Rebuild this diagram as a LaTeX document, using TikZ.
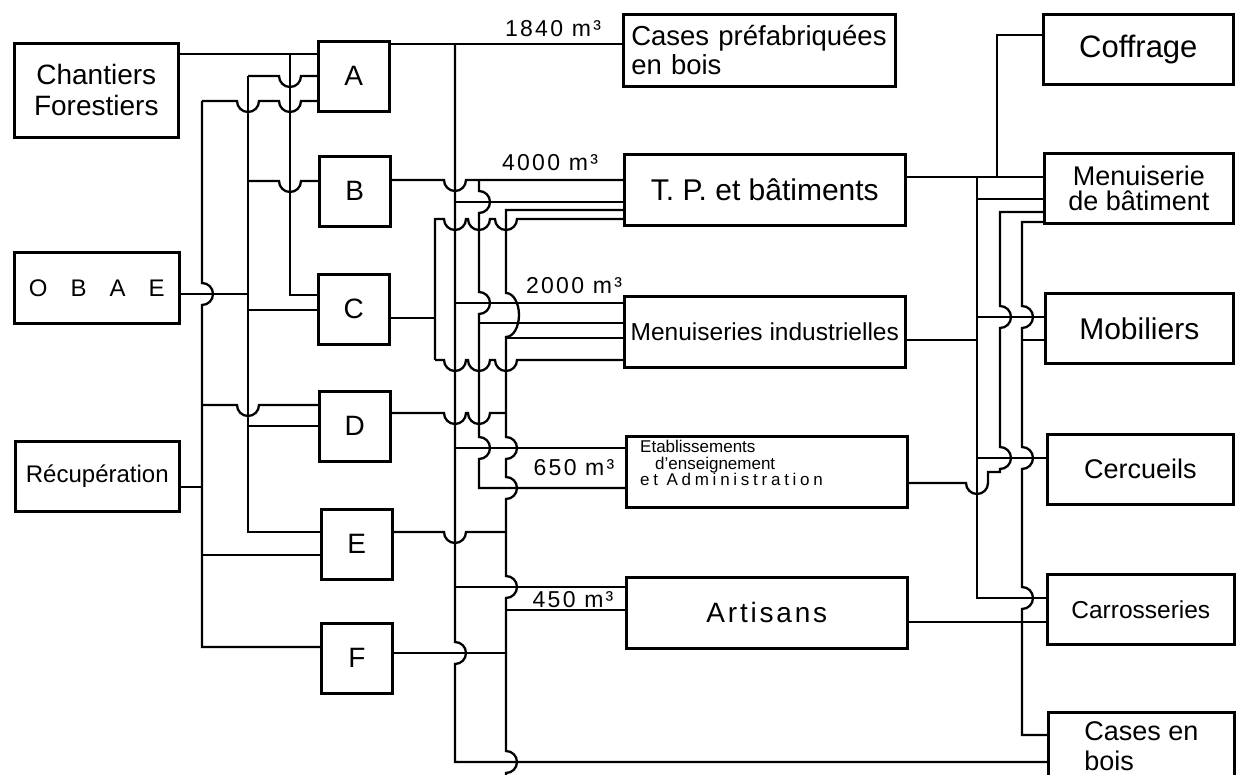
\documentclass[tikz,border=0pt]{standalone}
\usepackage{fontspec}
\setmainfont{Liberation Sans}
\newfontfamily\spacedfont[LetterSpace=10]{Liberation Sans}
\newfontfamily\widefont[LetterSpace=22]{Liberation Sans}
\tikzset{
  bloc/.style={draw,line width=2.6pt,inner sep=0pt,anchor=north west},
  letter/.style={bloc,minimum width=71pt,minimum height=70pt,font=\fontsize{28}{32}\selectfont},
  dest/.style={bloc,minimum width=281pt,minimum height=71pt},
  goal/.style={bloc,minimum width=188pt,minimum height=70pt},
  link/.style={draw,line width=2.3pt},
  qty/.style={font=\spacedfont\fontsize{23}{26}\selectfont},
}
% bridges where two lines cross without joining
\newcommand{\hopu}[2]{-- ({#1-11},#2) arc[start angle=180,end angle=0,radius=11]}
\newcommand{\hopd}[2]{-- (#1,{#2-11}) arc[start angle=-90,end angle=90,radius=11]}
\newcommand{\hopup}[2]{-- (#1,{#2+11}) arc[start angle=90,end angle=-90,radius=11]}

\begin{document}
\begin{tikzpicture}[x=1pt,y=-1pt]
\fill[white,use as bounding box] (0,0) rectangle (1237,775);

% sources
\node[bloc,minimum width=164pt,minimum height=94pt,align=center,font=\fontsize{28}{31}\selectfont] (chantiers) at (13,42) {Chantiers\\Forestiers};
\node[bloc,minimum width=165pt,minimum height=71pt,font=\fontsize{24}{28}\selectfont] (obae) at (13,251) {O\hspace{23pt}B\hspace{23pt}A\hspace{23pt}E};
\node[bloc,minimum width=164pt,minimum height=70pt,font=\fontsize{24}{28}\selectfont] (recup) at (14,440) {Récupération};

% intermediate boxes
\node[letter] (A) at (317,40) {A};
\node[letter] (B) at (318,155) {B};
\node[letter] (C) at (317,273) {C};
\node[letter] (D) at (318,390) {D};
\node[letter] (E) at (320,508) {E};
\node[letter] (F) at (320,622) {F};

% uses
\node[bloc,minimum width=272pt,minimum height=72pt,text width=256pt,align=left,font=\fontsize{27.5}{29}\selectfont] (cpb) at (622,13) {Cases préfabriquées\\en bois};
\node[dest,font=\fontsize{30}{32}\selectfont] (tp) at (623,153) {T. P. et bâtiments};
\node[dest,font=\fontsize{24.5}{28}\selectfont] (mi) at (623,295) {Menuiseries industrielles};
\node[dest] (etab) at (625,435) {};
\node[anchor=north west,inner sep=0pt,align=left,font=\fontsize{17}{16.5}\selectfont] (etabtxt) at (640,440) {Etablissements\\\hspace*{15pt}d'enseignement\\{\widefont et Administration}};
\node[dest,font=\spacedfont\fontsize{28}{32}\selectfont] (art) at (625,576) {Artisans};

\node[goal,minimum width=190pt,font=\fontsize{31}{32}\selectfont] (coff) at (1042,13) {Coffrage};
\node[goal,minimum width=189pt,align=center,font=\fontsize{27}{25}\selectfont] (mb) at (1043,152) {Menuiserie\\de bâtiment};
\node[goal,font=\fontsize{30}{32}\selectfont] (mob) at (1044,292) {Mobiliers};
\node[goal,minimum width=186pt,font=\fontsize{27}{30}\selectfont] (cerc) at (1046,433) {Cercueils};
\node[goal,minimum width=187pt,font=\fontsize{24.5}{28}\selectfont] (carr) at (1046,573) {Carrosseries};
\node[goal,minimum width=186pt,minimum height=68pt,align=left,font=\fontsize{27}{30}\selectfont] (ceb) at (1047,711) {Cases en\\bois};

% volumes
\node[qty] (q1840) at (553,29) {1840 m³};
\node[qty] (q4000) at (550,163) {4000 m³};
\node[qty] (q2000) at (574,286) {2000 m³};
\node[qty] (q650) at (574,468) {650 m³};
\node[qty] (q450) at (573,600) {450 m³};

% sources -> A..F
\draw[link] (chantiers.east |- 0,54) -- (A.west |- 0,54);
\draw[link] (290,54) -- (290,295) -- (C.west |- 0,295);
\draw[link] (248,76) \hopu{290}{76} -- (A.west |- 0,76);
\draw[link] (248,76) -- (248,532) -- (E.west |- 0,532);
\draw[link] (248,181) \hopu{290}{181} -- (B.west |- 0,181);
\draw[link] (obae.east |- 0,294) -- (248,294);
\draw[link] (248,310) -- (C.west |- 0,310);
\draw[link] (248,426) -- (D.west |- 0,426);
\draw[link] (202,101) \hopu{248}{101} \hopu{290}{101} -- (A.west |- 0,101);
\draw[link] (202,101) \hopd{202}{294} -- (202,647) -- (F.west |- 0,647);
\draw[link] (202,405) \hopu{248}{405} -- (D.west |- 0,405);
\draw[link] (recup.east |- 0,487) -- (202,487);
\draw[link] (202,555) -- (E.west |- 0,555);

% A..F -> uses
\draw[link] (A.east |- 0,44) -- (cpb.west |- 0,44);
\draw[link] (455,44) \hopd{455}{653} -- (455,762) -- (ceb.west |- 0,762);
\draw[link] (455,202) -- (tp.west |- 0,202);
\draw[link] (455,303) -- (mi.west |- 0,303);
\draw[link] (455,448) -- (etab.west |- 0,448);
\draw[link] (455,587) -- (art.west |- 0,587);
\draw[link] (B.east |- 0,180) \hopu{455}{180} -- (tp.west |- 0,180);
\draw[link] (479,180) \hopd{479}{202} \hopd{479}{303} \hopd{479}{448} -- (479,488) -- (etab.west |- 0,488);
\draw[link] (479,323) -- (mi.west |- 0,323);
\draw[link] (tp.west |- 0,210) -- (506,210) -- (506,293) arc[start angle=-90,end angle=90,x radius=13,y radius=22]
  \hopd{506}{448} \hopd{506}{488} \hopd{506}{587} \hopd{506}{762} -- (506,776);
\draw[link] (506,338) -- (mi.west |- 0,338);
\draw[link] (D.east |- 0,413) \hopu{455}{413} \hopu{479}{413} -- (506,413);
\draw[link] (E.east |- 0,532) \hopu{455}{532} -- (506,532);
\draw[link] (506,610) -- (art.west |- 0,610);
\draw[link] (F.east |- 0,653) -- (506,653);
\draw[link] (C.east |- 0,318) -- (435,318);
\draw[link] (435,360) -- (435,219) \hopu{455}{219} \hopu{479}{219} \hopu{506}{219} -- (tp.west |- 0,219);
\draw[link] (435,360) \hopu{455}{360} \hopu{479}{360} \hopu{506}{360} -- (mi.west |- 0,360);

% uses -> trades
\draw[link] (tp.east |- 0,177) -- (mb.west |- 0,177);
\draw[link] (997,177) -- (997,35) -- (coff.west |- 0,35);
\draw[link] (977,177) -- (977,598) -- (carr.west |- 0,598);
\draw[link] (977,199) -- (mb.west |- 0,199);
\draw[link] (977,317) -- (mob.west |- 0,317);
\draw[link] (mi.east |- 0,340) -- (977,340);
\draw[link] (977,458) -- (cerc.west |- 0,458);
\draw[link] (etab.east |- 0,483) \hopu{977}{483} -- (988,472) -- (1000,472) \hopup{1000}{458} \hopup{1000}{317} -- (1000,212) -- (mb.west |- 0,212);
\draw[link] (mb.west |- 0,222) -- (1022,222) \hopd{1022}{317} \hopd{1022}{458} \hopd{1022}{598} -- (1022,735) -- (ceb.west |- 0,735);
\draw[link] (1022,340) -- (mob.west |- 0,340);
\draw[link] (art.east |- 0,622) -- (carr.west |- 0,622);
\end{tikzpicture}
\end{document}
